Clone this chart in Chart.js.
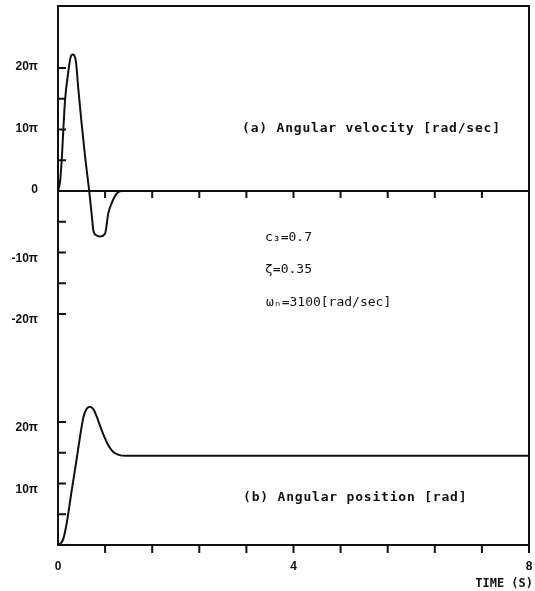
<!DOCTYPE html>
<html>
<head>
<meta charset="utf-8">
<script src="https://cdn.jsdelivr.net/npm/chart.js@4.4.1/dist/chart.umd.min.js"></script>
<style>
  html, body { margin: 0; padding: 0; background: #fff; }
  #wrap { width: 535px; height: 591px; position: relative; }
</style>
</head>
<body>
<div id="wrap"><canvas id="respChart" width="535" height="591"></canvas></div>
<script>
// (a) angular velocity, in units of pi rad/sec
const velTime  = [0, 0.034, 0.063, 0.09, 0.12, 0.175, 0.215, 0.25, 0.305, 0.345, 0.40, 0.46, 0.53, 0.57, 0.60, 0.65, 0.71, 0.80, 0.855, 0.91, 1.0, 1.08, 8];
const velValue = [0, 1.5, 5.0, 9.9, 14.8, 19.4, 21.8, 22.2, 21.0, 16.6, 11.1, 5.6, 0, -3.6, -6.4, -7.2, -7.4, -6.9, -3.6, -2.0, -0.4, 0, 0];

// (b) angular position, in units of pi rad
const posTime  = [0, 0.05, 0.09, 0.147, 0.23, 0.316, 0.374, 0.43, 0.485, 0.54, 0.60, 0.657, 0.71, 0.77, 0.85, 0.93, 1.02, 1.15, 8];
const posValue = [0, 0.3, 1.0, 3.5, 8.7, 13.9, 17.6, 20.7, 22.1, 22.5, 22.1, 20.9, 19.5, 18.0, 16.3, 15.2, 14.7, 14.5, 14.5];

// axis ticks and labels
const timeTicks = [0.8, 1.6, 2.4, 3.2, 4, 4.8, 5.6, 6.4, 7.2, 8];
const timeLabelValues = [0, 4, 8];
const timeLabelText = ['0', '4', '8'];
const velTicks = [-20, -15, -10, -5, 5, 10, 15, 20];
const velLabelValues = [20, 10, 0, -10, -20];
const velLabelText = ['20π', '10π', '0', '-10π', '-20π'];
const posTicks = [5, 10, 15, 20];
const posLabelValues = [20, 10];
const posLabelText = ['20π', '10π'];

const ink = '#111';

const framePlugin = {
    id: 'frame',
    afterDraw: function(chart) {
        const ctx = chart.ctx;
        const a = chart.chartArea;
        const x = chart.scales.x, yv = chart.scales.yv, yp = chart.scales.yp;
        ctx.save();
        ctx.strokeStyle = ink;
        ctx.lineWidth = 2;
        ctx.strokeRect(a.left, a.top, a.right - a.left, a.bottom - a.top);

        // velocity zero line with hanging ticks
        const y0 = yv.getPixelForValue(0);
        ctx.beginPath();
        ctx.moveTo(a.left, y0);
        ctx.lineTo(a.right, y0);
        timeTicks.forEach(t => {
            const px = x.getPixelForValue(t);
            ctx.moveTo(px, y0);
            ctx.lineTo(px, y0 + 7);
            ctx.moveTo(px, a.bottom);
            ctx.lineTo(px, a.bottom + 8);
        });
        // left axis ticks, pointing inward
        velTicks.forEach(v => {
            const py = yv.getPixelForValue(v);
            ctx.moveTo(a.left, py);
            ctx.lineTo(a.left + 8, py);
        });
        posTicks.forEach(v => {
            const py = yp.getPixelForValue(v);
            ctx.moveTo(a.left, py);
            ctx.lineTo(a.left + 8, py);
        });
        ctx.stroke();

        // tick labels
        ctx.fillStyle = ink;
        ctx.font = 'bold 12px "Liberation Sans", Arial, sans-serif';
        ctx.textAlign = 'right';
        ctx.textBaseline = 'middle';
        velLabelValues.forEach((v, i) => {
            const py = yv.getPixelForValue(v) + (v < 0 ? 6 : -1);
            ctx.fillText(velLabelText[i], a.left - 20, py);
        });
        posLabelValues.forEach((v, i) => {
            ctx.fillText(posLabelText[i], a.left - 20, yp.getPixelForValue(v) + 6);
        });
        ctx.textAlign = 'center';
        timeLabelValues.forEach((t, i) => {
            ctx.fillText(timeLabelText[i], x.getPixelForValue(t), a.bottom + 22);
        });
        ctx.font = 'bold 12px "DejaVu Sans Mono", monospace';
        ctx.textAlign = 'right';
        ctx.fillText('TIME (S)', a.right + 4, a.bottom + 39);

        // panel captions
        ctx.font = 'bold 13px "DejaVu Sans Mono", monospace';
        ctx.letterSpacing = '0.8px';
        ctx.textAlign = 'left';
        ctx.fillText('(a) Angular velocity [rad/sec]', 242, 129);
        ctx.fillText('(b) Angular position [rad]', 243, 498);

        // parameters
        ctx.font = '13px "DejaVu Sans Mono", monospace';
        ctx.letterSpacing = '0px';
        ctx.fillText('c₃=0.7', 265, 238);
        ctx.fillText('ζ=0.35', 265, 270);
        ctx.fillText('ωₙ=3100[rad/sec]', 266, 303);
        ctx.restore();
    }
};

const pxPerPi = 6.15;
const areaTop = 6, areaBottom = 545, velZeroPx = 191;
const span = (areaBottom - areaTop) / pxPerPi;
const velMax = (velZeroPx - areaTop) / pxPerPi;

new Chart(document.getElementById('respChart'), {
    type: 'line',
    data: {
        datasets: [{
            label: 'Angular velocity',
            data: velTime.map((t, i) => ({ x: t, y: velValue[i] })),
            yAxisID: 'yv',
            borderColor: ink,
            borderWidth: 2,
            pointRadius: 0,
            cubicInterpolationMode: 'monotone',
            fill: false
        }, {
            label: 'Angular position',
            data: posTime.map((t, i) => ({ x: t, y: posValue[i] })),
            yAxisID: 'yp',
            borderColor: ink,
            borderWidth: 2,
            pointRadius: 0,
            cubicInterpolationMode: 'monotone',
            fill: false
        }]
    },
    options: {
        responsive: false,
        animation: false,
        layout: {
            padding: { left: 58, top: areaTop, right: 6, bottom: 591 - areaBottom }
        },
        plugins: {
            legend: { display: false },
            tooltip: { enabled: false }
        },
        scales: {
            x: { type: 'linear', min: 0, max: 8, display: false },
            yv: { type: 'linear', min: velMax - span, max: velMax, display: false },
            yp: { type: 'linear', min: 0, max: span, display: false }
        }
    },
    plugins: [framePlugin]
});
</script>
</body>
</html>
